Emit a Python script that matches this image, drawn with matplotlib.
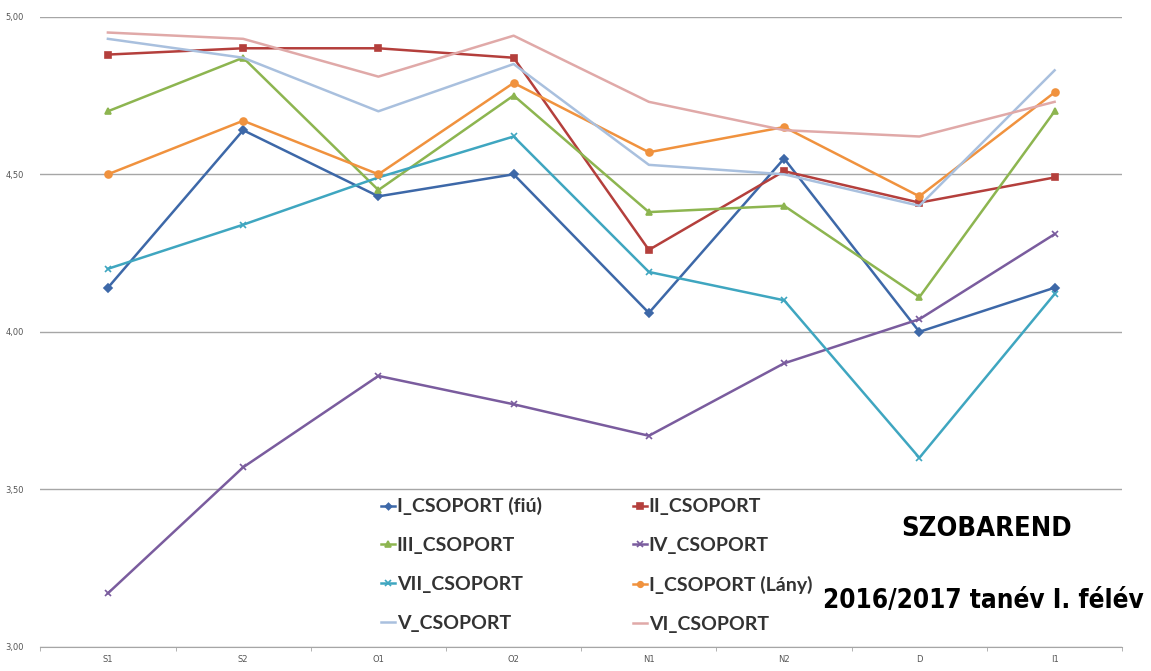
import matplotlib.pyplot as plt
import numpy as np

# kategoriák és értékek (leolvasva)
categories = ["S1", "S2", "O1", "O2", "N1", "N2", "D", "I1"]

i_fiu = [4.14, 4.64, 4.43, 4.50, 4.06, 4.55, 4.00, 4.14]
ii_cs = [4.88, 4.90, 4.90, 4.87, 4.26, 4.51, 4.41, 4.49]
iii_cs = [4.70, 4.87, 4.45, 4.75, 4.38, 4.40, 4.11, 4.70]
iv_cs = [3.17, 3.57, 3.86, 3.77, 3.67, 3.90, 4.04, 4.31]
vii_cs = [4.20, 4.34, 4.49, 4.62, 4.19, 4.10, 3.60, 4.12]
i_lany = [4.50, 4.67, 4.50, 4.79, 4.57, 4.65, 4.43, 4.76]
v_cs = [4.93, 4.87, 4.70, 4.85, 4.53, 4.50, 4.40, 4.83]
vi_cs = [4.95, 4.93, 4.81, 4.94, 4.73, 4.64, 4.62, 4.73]

yticks = [3.0, 3.5, 4.0, 4.5, 5.0]
ytick_labels = ["3,00", "3,50", "4,00", "4,50", "5,00"]

fig = plt.figure(figsize=(11.51, 6.71), dpi=100)
ax = fig.add_axes([0.035, 0.036, 0.94, 0.939])

x = np.arange(len(categories))

series = [
    ("I_CSOPORT (fiú)", i_fiu, "#3D68A8", "D", 4),
    ("II_CSOPORT", ii_cs, "#B43F3C", "s", 5),
    ("III_CSOPORT", iii_cs, "#8DB550", "^", 5),
    ("IV_CSOPORT", iv_cs, "#7A5C9E", "x", 5),
    ("VII_CSOPORT", vii_cs, "#3FA6C0", "x", 5),
    ("I_CSOPORT (Lány)", i_lany, "#F0923E", "o", 5),
    ("V_CSOPORT", v_cs, "#A9C0DE", None, 0),
    ("VI_CSOPORT", vi_cs, "#E0A9A8", None, 0),
]

lines = {}
for name, vals, col, mk, ms in series:
    ln, = ax.plot(x, vals, color=col, lw=1.8, marker=mk, markersize=ms,
                  markeredgewidth=1.2, label=name)
    lines[name] = ln

ax.set_xlim(-0.5, len(categories) - 0.5)
ax.set_ylim(3.0, 5.0)
ax.set_yticks(yticks)
ax.set_yticklabels(ytick_labels)
ax.set_xticks(x)
ax.set_xticklabels(categories)
ax.set_xticks(np.arange(-0.5, len(categories)), minor=True)
ax.yaxis.grid(True, color="#A6A6A6", lw=1)
ax.set_axisbelow(True)
for s in ["left", "right", "top"]:
    ax.spines[s].set_visible(False)
ax.spines["bottom"].set_color("#A6A6A6")
ax.tick_params(axis="y", length=0, labelsize=6, colors="#555555", pad=12)
ax.tick_params(axis="x", which="major", length=0, labelsize=6, colors="#555555", pad=6)
ax.tick_params(axis="x", which="minor", length=3, color="#A6A6A6")

# legend: soronként két elem
order = ["I_CSOPORT (fiú)", "III_CSOPORT", "VII_CSOPORT", "V_CSOPORT",
         "II_CSOPORT", "IV_CSOPORT", "I_CSOPORT (Lány)", "VI_CSOPORT"]
fig.legend([lines[n] for n in order], order, ncol=2, frameon=False,
           loc="upper left", bbox_to_anchor=(0.316, 0.285),
           prop={"family": "Lato", "weight": "bold", "size": 14},
           handlelength=0.7, handletextpad=0.1, columnspacing=4.7,
           labelspacing=1.12, markerscale=0.8, labelcolor="#333333")

# cím: a szélességhez igazított betűméret
t1 = fig.text(0.857, 0.212, "SZOBAREND", ha="center", va="center",
              family="DejaVu Sans", stretch="condensed", weight="bold", fontsize=30)
t2 = fig.text(0.854, 0.104, "2016/2017 tanév I. félév", ha="center", va="center",
              family="DejaVu Sans", stretch="condensed", weight="bold", fontsize=25)
r = fig.canvas.get_renderer()
for t, w in [(t1, 170), (t2, 322)]:
    cw = t.get_window_extent(r).width
    t.set_fontsize(t.get_fontsize() * w / cw)

fig.savefig("out.png", dpi=100)
